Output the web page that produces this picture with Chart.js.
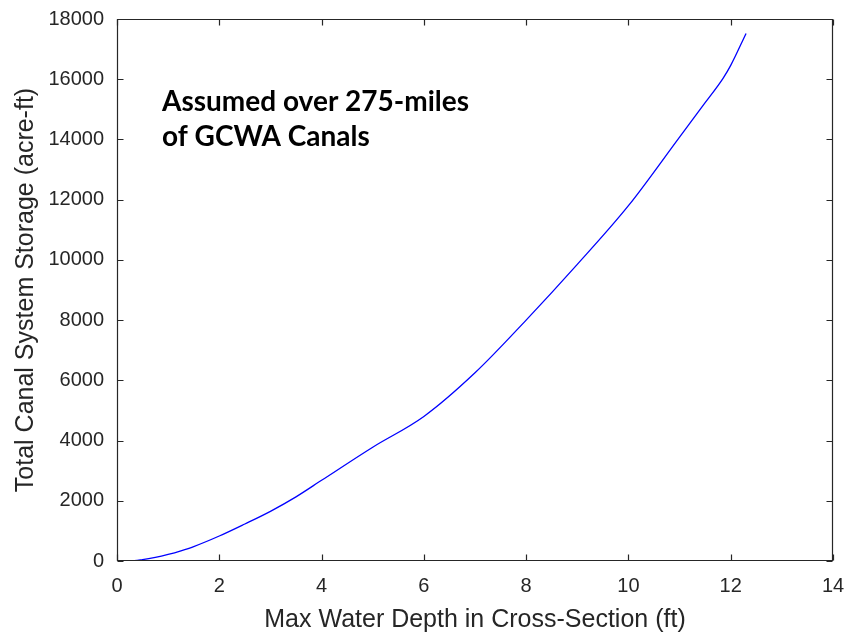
<!DOCTYPE html>
<html>
<head>
<meta charset="utf-8">
<script src="https://cdn.jsdelivr.net/npm/chart.js@4/dist/chart.umd.min.js"></script>
<style>
  html, body { margin: 0; padding: 0; background: #ffffff; }
  #wrap { width: 849px; height: 635px; }
</style>
</head>
<body>
<div id="wrap"><canvas id="c" width="849" height="635"></canvas></div>
<script>
// ---- data ----
const depthFt = [0, 0.25, 0.5, 0.75, 1, 1.25, 1.5, 2, 2.5, 3, 3.5, 4, 5, 6, 7, 8, 9, 10, 11, 11.5, 11.85, 12, 12.3];
const storageAcreFt = [0, 0, 45, 120, 220, 340, 480, 830, 1230, 1650, 2130, 2680, 3780, 4800, 6250, 8000, 9850, 11800, 14080, 15220, 16030, 16460, 17520];
const xTicks = [0, 2, 4, 6, 8, 10, 12, 14];
const yTicks = [0, 2000, 4000, 6000, 8000, 10000, 12000, 14000, 16000, 18000];
const xTitle = 'Max Water Depth in Cross-Section (ft)';
const yTitle = 'Total Canal System Storage (acre-ft)';
const noteLines = ['Assumed over 275-miles', 'of GCWA Canals'];
const noteAnchor = { x: 0.88, y: [14945, 13783] };

const AXIS_COLOR = '#262626';

const boxPlugin = {
  id: 'matlabBox',
  afterDraw(chart) {
    const { ctx, chartArea: a, scales } = chart;
    const L = Math.round(a.left) + 0.5, R = Math.round(a.right) - 0.5;
    const T = Math.round(a.top) + 0.5, B = Math.round(a.bottom) - 0.5;
    ctx.save();
    ctx.strokeStyle = AXIS_COLOR;
    ctx.lineWidth = 1.2;
    ctx.beginPath();
    ctx.rect(L, T, R - L, B - T);
    ctx.stroke();
    const tl = 6;
    ctx.beginPath();
    xTicks.forEach(v => {
      const px = Math.round(scales.x.getPixelForValue(v)) + 0.5;
      ctx.moveTo(px, B); ctx.lineTo(px, B - tl);
      ctx.moveTo(px, T); ctx.lineTo(px, T + tl);
    });
    yTicks.forEach(v => {
      const py = Math.round(scales.y.getPixelForValue(v)) + 0.5;
      ctx.moveTo(L, py); ctx.lineTo(L + tl, py);
      ctx.moveTo(R, py); ctx.lineTo(R - tl, py);
    });
    ctx.stroke();
    // annotation
    ctx.fillStyle = '#000000';
    ctx.font = 'bold 28px Lato, "Open Sans", sans-serif';
    ctx.textAlign = 'left';
    ctx.textBaseline = 'alphabetic';
    noteLines.forEach((t, i) => {
      ctx.fillText(t, scales.x.getPixelForValue(noteAnchor.x), scales.y.getPixelForValue(noteAnchor.y[i]));
    });
    ctx.restore();
  }
};

function zeroPad(s) { s.paddingTop = 0; s.paddingBottom = 0; s.paddingLeft = 0; s.paddingRight = 0; }

new Chart(document.getElementById('c'), {
  type: 'line',
  data: {
    datasets: [{
      data: depthFt.map((x, i) => ({ x, y: storageAcreFt[i] })),
      borderColor: '#0000ff',
      borderWidth: 1.3,
      pointRadius: 0,
      fill: false,
      cubicInterpolationMode: 'monotone'
    }]
  },
  options: {
    responsive: false,
    animation: false,
    devicePixelRatio: 1,
    layout: { padding: { top: 19, right: 16, left: 0, bottom: 0 } },
    plugins: { legend: { display: false }, tooltip: { enabled: false } },
    scales: {
      x: {
        type: 'linear', min: 0, max: 14,
        afterFit(s) { s.height = 74; zeroPad(s); },
        afterBuildTicks(s) { s.ticks = xTicks.map(v => ({ value: v })); },
        grid: { display: false, drawTicks: false },
        border: { display: false },
        ticks: { color: AXIS_COLOR, font: { family: 'Arial, "Liberation Sans", sans-serif', size: 20 }, padding: 13, maxRotation: 0 },
        title: { display: true, text: xTitle, color: AXIS_COLOR, font: { family: 'Arial, "Liberation Sans", sans-serif', size: 25, weight: 'normal' }, padding: { top: 0, bottom: 0 } }
      },
      y: {
        type: 'linear', min: 0, max: 18000,
        afterFit(s) { s.width = 117; zeroPad(s); },
        afterBuildTicks(s) { s.ticks = yTicks.map(v => ({ value: v })); },
        grid: { display: false, drawTicks: false },
        border: { display: false },
        ticks: { color: AXIS_COLOR, font: { family: 'Arial, "Liberation Sans", sans-serif', size: 20 }, padding: 13, callback: v => String(v) },
        title: { display: true, text: yTitle, color: AXIS_COLOR, font: { family: 'Arial, "Liberation Sans", sans-serif', size: 25, weight: 'normal' }, padding: { top: 11, bottom: 0 } }
      }
    }
  },
  plugins: [boxPlugin]
});
</script>
</body>
</html>
